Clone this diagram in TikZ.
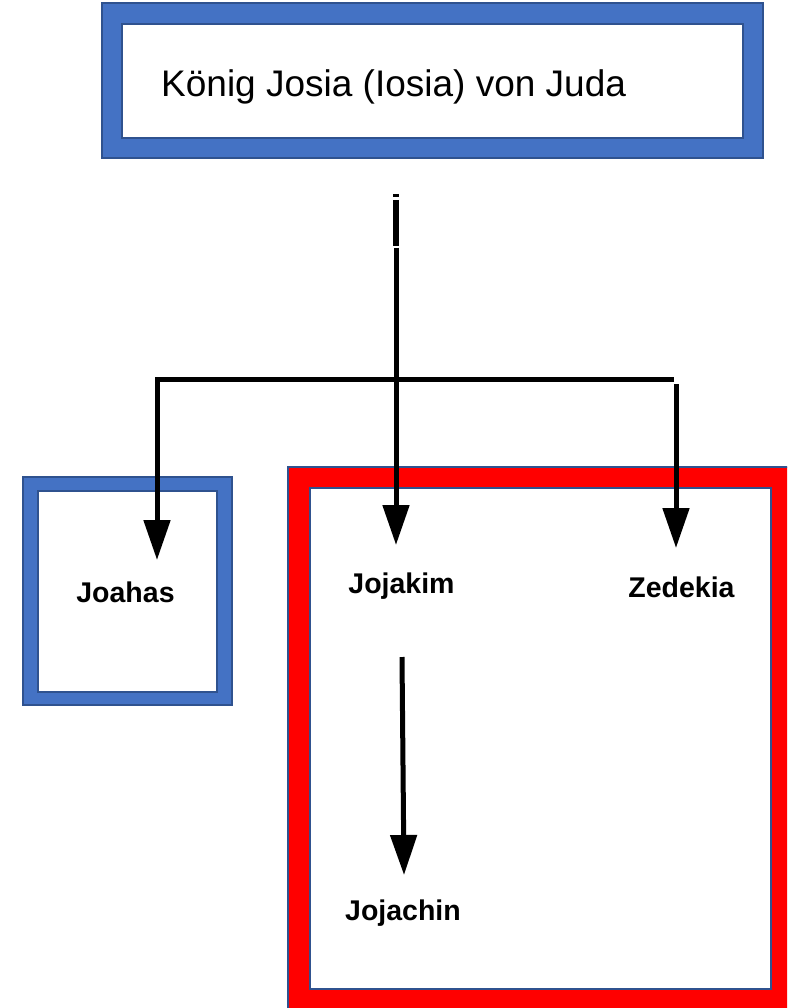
\documentclass[tikz,border=0pt]{standalone}
\usepackage{fontspec}
\setmainfont{Liberation Sans}
\usetikzlibrary{arrows.meta}
\definecolor{bandblue}{HTML}{4472C4}
\definecolor{edgeblue}{HTML}{2F528F}
\definecolor{bandred}{HTML}{FF0000}
\tikzset{
  bandbox/.style={fill=#1, draw=edgeblue, line width=1.5pt},
  innerbox/.style={fill=white, draw=edgeblue, line width=2pt},
  conn/.style={line width=5pt, draw=black, -{Triangle[length=40pt,width=26pt]}},
  plainconn/.style={line width=5pt, draw=black},
  lbl/.style={font=\fontsize{28.5}{30}\selectfont\bfseries, inner sep=0pt, anchor=base},
  title/.style={font=\fontsize{37}{40}\selectfont, inner sep=0pt, anchor=base west}
}
\begin{document}
\begin{tikzpicture}[x=1pt,y=-1pt]
\useasboundingbox (0,0) rectangle (787,1008);
\clip (0,0) rectangle (787,1008);
\fill[white] (0,0) rectangle (787,1008);
% top box
\path[bandbox=bandblue] (102,3) rectangle (763,158);
\path[innerbox] (122,24) rectangle (743,138);
\node[title] (josia) at (161,97) {König Josia (Iosia) von Juda};
% Joahas box
\path[bandbox=bandblue] (23,477) rectangle (232,705);
\path[innerbox] (38,491) rectangle (217,692);
% red box
\path[bandbox=bandred] (288,467) rectangle (805,1025);
\path[innerbox] (310,488) rectangle (771,989);
% labels
\node[lbl] (joahas) at (125.5,602) {Joahas};
\node[lbl] (jojakim) at (401.5,593) {Jojakim};
\node[lbl] (zedekia) at (681.5,597) {Zedekia};
\node[lbl] (jojachin) at (403,920) {Jojachin};
% coordinates
\coordinate (dotT) at (396,194);
\coordinate (dotB) at (396,197.5);
\coordinate (stubT) at (396,200);
\coordinate (stubB) at (396,246);
\coordinate (stem) at (396,247.5);
\coordinate (tipJk) at (396,545);
\coordinate (hL) at (157,379);
\coordinate (hR) at (674,379);
\coordinate (tipJh) at (157,560);
\coordinate (zTop) at (676,384);
\coordinate (tipZ) at (676,548);
\coordinate (jcTop) at (402,657);
\coordinate (tipJc) at (404,875);
% connectors
\draw[line width=6pt] (dotT) -- (dotB);
\draw[line width=6pt] (stubT) -- (stubB);
\draw[conn] (stem) -- (tipJk);
\draw[conn, line join=miter] (hR) -- (hL) -- (tipJh);
\draw[conn] (zTop) -- (tipZ);
\draw[conn] (jcTop) -- (tipJc);
\end{tikzpicture}
\end{document}
